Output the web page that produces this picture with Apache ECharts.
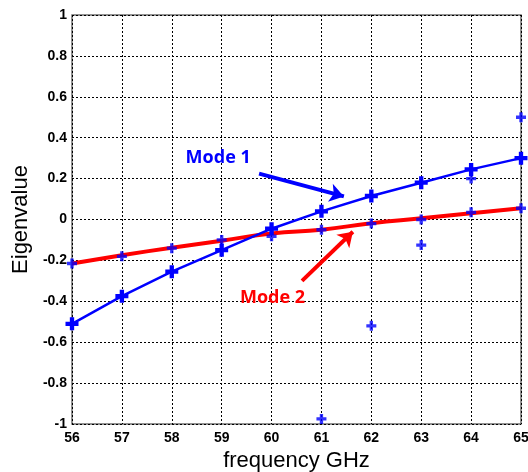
<!DOCTYPE html>
<html>
<head>
<meta charset="utf-8">
<script src="https://cdn.jsdelivr.net/npm/echarts@6/dist/echarts.min.js"></script>
<style>
  html, body { margin: 0; padding: 0; background: #fff; }
  #chart { width: 528px; height: 472px; }
</style>
</head>
<body>
<div id="chart"></div>
<script>
const frequencies = [56, 57, 58, 59, 60, 61, 62, 63, 64, 65]
const mode1Values = [-0.51, -0.375, -0.255, -0.15, -0.045, 0.04, 0.115, 0.18, 0.245, 0.3]
const mode2Values = [-0.215, -0.175, -0.138, -0.104, -0.068, -0.05, -0.018, 0.006, 0.03, 0.055]
const mode2Points = [-0.215, -0.18, -0.14, -0.1, -0.082, -0.05, -0.02, 0.0, 0.035, 0.055]
const extraPoints = [[61, -0.975], [62, -0.52], [63, -0.125], [64, 0.2], [65, 0.5]]
const yTicks = ['-1', '-0.8', '-0.6', '-0.4', '-0.2', '0', '0.2', '0.4', '0.6', '0.8', '1']

// annotation positions in data units
const mode1Label = [58.93, 0.3]
const mode1Arrow = [[59.75, 0.224], [61.45, 0.113]]
const mode2Label = [60.02, -0.385]
const mode2Arrow = [[60.61, -0.3], [61.63, -0.06]]

const plus = 'path://M3,0H6V3H9V6H6V9H3V6H0V3H3Z'
const pair = (vals) => frequencies.map((f, i) => [f, vals[i]])

const chart = echarts.init(document.getElementById('chart'))

const tickFont = {
  color: '#000',
  fontFamily: 'Liberation Sans',
  fontWeight: 'bold',
  fontSize: 14,
}

const option = {
  animation: false,
  backgroundColor: '#fff',
  grid: {
    left: 72,
    top: 15,
    width: 449,
    height: 409,
    outerBoundsMode: 'none',
    containLabel: false,
    show: true,
    borderColor: '#6e6e6e',
    borderWidth: 1.5,
  },
  xAxis: {
    type: 'value',
    min: 56,
    max: 65,
    interval: 1,
    name: 'frequency GHz',
    nameLocation: 'middle',
    nameGap: 19,
    nameTextStyle: { color: '#000', fontFamily: 'Liberation Sans', fontSize: 22 },
    axisLine: { show: false },
    axisTick: { show: false },
    axisLabel: { ...tickFont, margin: 7 },
    splitLine: { lineStyle: { color: '#000', type: [2, 2], width: 1 } },
  },
  yAxis: {
    type: 'value',
    min: -1,
    max: 1,
    interval: 0.2,
    name: 'Eigenvalue',
    nameLocation: 'middle',
    nameGap: 30,
    nameTextStyle: { color: '#000', fontFamily: 'Liberation Sans', fontSize: 22 },
    axisLine: { show: false },
    axisTick: { show: false },
    axisLabel: {
      ...tickFont,
      margin: 5,
      formatter: (v) => yTicks[Math.round((v + 1) / 0.2)],
    },
    splitLine: { lineStyle: { color: '#000', type: [2, 2], width: 1 } },
  },
  series: [
    {
      name: 'Mode 2',
      type: 'line',
      data: pair(mode2Values),
      showSymbol: false,
      smooth: true,
      lineStyle: { color: '#ff0000', width: 4 },
      z: 2,
      markLine: {
        silent: true,
        symbol: ['none', 'arrow'],
        symbolSize: 14,
        lineStyle: { color: '#ff0000', width: 4, type: 'solid' },
        label: { show: false },
        data: [[{ coord: mode2Arrow[0] }, { coord: mode2Arrow[1] }]],
      },
      markPoint: {
        silent: true,
        symbol: 'rect',
        symbolSize: 1,
        itemStyle: { color: 'rgba(0,0,0,0)' },
        label: {
          show: true,
          formatter: 'Mode 2',
          color: '#ff0000',
          fontFamily: 'Open Sans',
          fontWeight: 'bold',
          fontSize: 18,
        },
        data: [{ coord: mode2Label }],
      },
    },
    {
      name: 'Mode 1',
      type: 'line',
      data: pair(mode1Values),
      symbol: plus,
      symbolSize: 13,
      itemStyle: { color: '#0000ff' },
      lineStyle: { color: '#0000ff', width: 2.5 },
      z: 3,
      markLine: {
        silent: true,
        symbol: ['none', 'arrow'],
        symbolSize: 14,
        lineStyle: { color: '#0000ff', width: 4, type: 'solid' },
        label: { show: false },
        data: [[{ coord: mode1Arrow[0] }, { coord: mode1Arrow[1] }]],
      },
      markPoint: {
        silent: true,
        symbol: 'rect',
        symbolSize: 1,
        itemStyle: { color: 'rgba(0,0,0,0)' },
        label: {
          show: true,
          formatter: 'Mode 1',
          color: '#0000ff',
          fontFamily: 'Open Sans',
          fontWeight: 'bold',
          fontSize: 18,
        },
        data: [{ coord: mode1Label }],
      },
    },
    {
      name: 'points',
      type: 'scatter',
      data: pair(mode2Points).concat(extraPoints),
      symbol: plus,
      symbolSize: 10,
      itemStyle: { color: '#0000ff' },
      z: 4,
    },
  ],
}

chart.setOption(option)
</script>
</body>
</html>
